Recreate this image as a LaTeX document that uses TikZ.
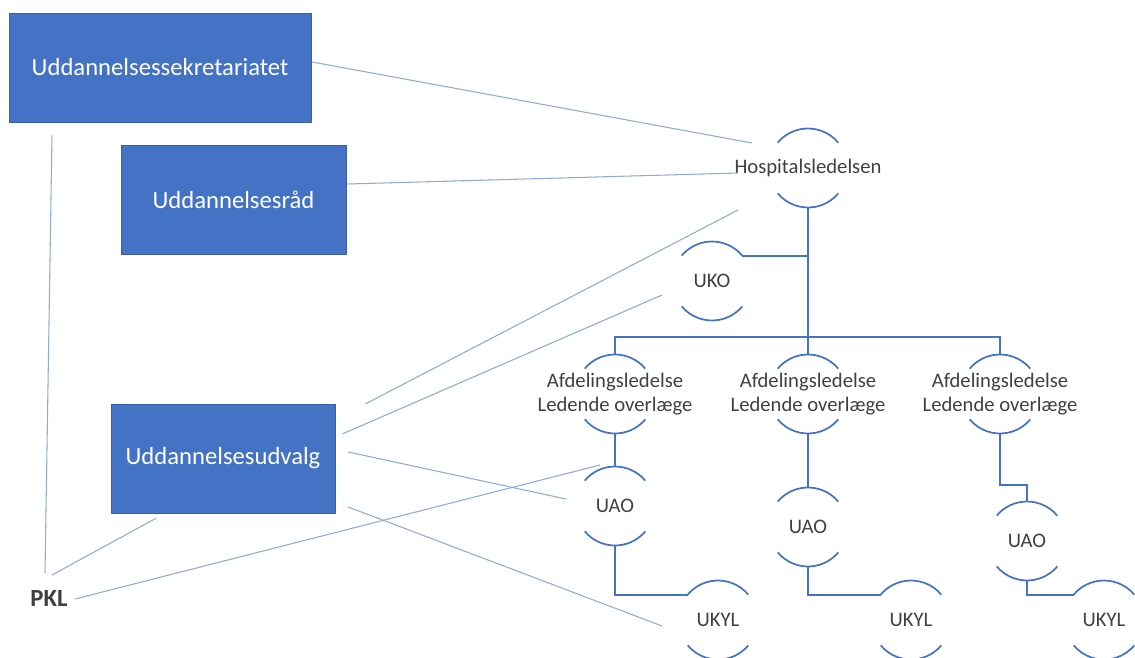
\documentclass[tikz,border=0pt]{standalone}
\usepackage{fontspec}
\setmainfont{Carlito}
\usepackage{tikz}
\usetikzlibrary{positioning}
\definecolor{boxblue}{HTML}{4472C4}
\definecolor{linkblue}{HTML}{8FAADC}
\definecolor{labelgray}{HTML}{404040}

\begin{document}
\begin{tikzpicture}[x=0.75pt,y=0.75pt,
 board/.style={draw=boxblue!85!black,fill=boxblue,text=white,minimum height=81.75pt,font=\fontsize{18.5}{22}\selectfont},
 unit/.style={text=labelgray,align=center,inner sep=0pt,font=\fontsize{15.5}{17.5}\selectfont},
 ring/.style={draw=boxblue,line width=1.3pt},
 tree/.style={draw=boxblue,line width=1.4pt},
 link/.style={draw=linkblue,line width=0.8pt}]
\clip (0,0) rectangle (1135,-657);
\def\rr{39.5}
% boards on the left
\node[board, minimum width=226.5pt] (sekr) at (160,-67.5) {Uddannelsessekretariatet};
\node[board, minimum width=168.75pt] (raad) at (233.5,-199.5) {Uddannelsesråd};
\node[board, minimum width=168pt] (udv) at (223,-458.5) {Uddannelsesudvalg};
\node[text=labelgray, font=\fontsize{18.5}{21}\selectfont\bfseries] (pkl) at (49,-598) {PKL};
% hierarchy
\node[unit] (hosp) at (808,-168) {Hospitalsledelsen};
\node[unit] (uko) at (712,-281) {UKO};
\node[unit] (afd1) at (615,-394) {Afdelingsledelse\\Ledende overlæge};
\node[unit] (afd2) at (808,-394) {Afdelingsledelse\\Ledende overlæge};
\node[unit] (afd3) at (1000,-394) {Afdelingsledelse\\Ledende overlæge};
\node[unit] (uao1) at (615,-506) {UAO};
\node[unit] (uao2) at (808,-527) {UAO};
\node[unit] (uao3) at (1027,-541) {UAO};
\node[unit] (ukyl1) at (718,-620) {UKYL};
\node[unit] (ukyl2) at (911,-620) {UKYL};
\node[unit] (ukyl3) at (1104,-620) {UKYL};
\foreach \n in {hosp,uko,afd1,afd2,afd3,uao1,uao2,uao3,ukyl1,ukyl2,ukyl3}{
  \draw[ring] ([shift={(40:\rr)}]\n.center) arc[start angle=40,end angle=140,radius=\rr];
  \draw[ring] ([shift={(220:\rr)}]\n.center) arc[start angle=220,end angle=320,radius=\rr];
  \coordinate (\n-top) at ([shift={(90:\rr)}]\n.center);
  \coordinate (\n-bot) at ([shift={(270:\rr)}]\n.center);
  \coordinate (\n-tl) at ([shift={(140:\rr)}]\n.center);
  \coordinate (\n-tr) at ([shift={(40:\rr)}]\n.center);
}
\draw[tree] (hosp-bot) -- (afd2-top);
\draw[tree] (uko-tr) -- (uko-tr -| hosp);
\draw[tree] (afd1-top) -- ++(0,17.5) -| (afd3-top);
\draw[tree] (afd1-bot) -- (uao1-top);
\draw[tree] (afd2-bot) -- (uao2-top);
\draw[tree] (afd3-bot) -- ++(0,-51.5) -| (uao3-top);
\draw[tree] (uao1-bot) |- (ukyl1-tl);
\draw[tree] (uao2-bot) |- (ukyl2-tl);
\draw[tree] (uao3-bot) |- (ukyl3-tl);
% thin links
\draw[link] ([shift={(1,5.5)}]sekr.east) -- ([shift={(-56,25)}]hosp.center);
\draw[link] ([shift={(1,15.5)}]raad.east) -- ([shift={(-70,-5)}]hosp.center);
\draw[link] ([shift={(30,54.5)}]udv.east) -- ([shift={(-70,-42)}]hosp.center);
\draw[link] ([shift={(7,24.5)}]udv.east) -- ([shift={(-50,-14)}]uko.center);
\draw[link] ([shift={(13,6.5)}]udv.east) -- ([shift={(-49,7)}]uao1.center);
\draw[link] ([shift={(13,-48.5)}]udv.east) -- ([shift={(-56,-6)}]ukyl1.center);
\draw[link] ([shift={(26,-1)}]pkl.center) -- ([shift={(-15,41)}]uao1.center);
\draw[link] ([shift={(-108,-13)}]sekr.south) -- ([shift={(-4,25)}]pkl.center);
\draw[link] ([shift={(3,23)}]pkl.center) -- ([shift={(-67,-5)}]udv.south);
\end{tikzpicture}
\end{document}
